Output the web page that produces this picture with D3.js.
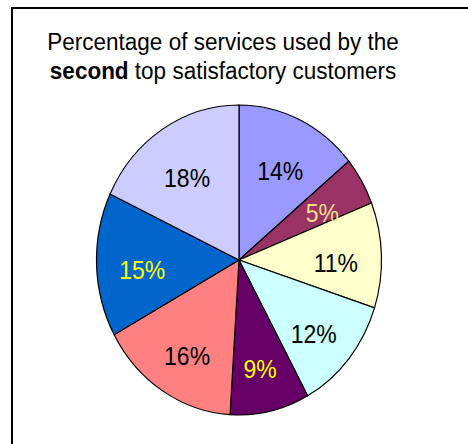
<!DOCTYPE html>
<html>
<head>
<meta charset="utf-8">
<script src="https://cdn.jsdelivr.net/npm/d3@7"></script>
<style>
  html, body { margin: 0; padding: 0; background: #fff; }
  svg { display: block; }
</style>
</head>
<body>
<svg id="chart" width="468" height="444"></svg>
<script>
// Share of services used, clockwise from 12 o'clock
const shares = [14, 5, 11, 12, 9, 16, 15, 18];
const sliceColors = ["#9999FF", "#993366", "#FFFFCC", "#CCFFFF", "#660066", "#FF8080", "#0066CC", "#CCCCFF"];
const labelColors = ["#000000", "#F2DC8C", "#000000", "#000000", "#FFFF00", "#000000", "#FFFF00", "#000000"];
const titleLines = [
  [{ t: "Percentage of services used by the", b: false }],
  [{ t: "second", b: true }, { t: " top satisfactory customers", b: false }]
];

const svg = d3.select("#chart");
const W = 468, H = 444;
const FONT = "Liberation Sans, Arial, sans-serif";

// the whole chart is slightly taller than wide
const cx = 239, cy = 260, rx = 142.5, ry = 155;
const sy = ry / rx;

// frame around the chart area
svg.append("rect")
  .attr("x", 12).attr("y", 8)
  .attr("width", W + 20).attr("height", H + 20)
  .attr("fill", "#fff").attr("stroke", "#000").attr("stroke-width", 2);

// title
titleLines.forEach((line, i) => {
  const t = svg.append("text")
    .attr("transform", `translate(223,${50 + i * 28.5}) scale(1,${sy})`)
    .attr("text-anchor", "middle")
    .attr("font-family", FONT)
    .attr("font-size", 22.5)
    .attr("fill", "#000");
  line.forEach(part => {
    t.append("tspan").text(part.t).attr("font-weight", part.b ? "bold" : "normal");
  });
});

// pie, drawn as a circle then stretched vertically into the plot ellipse
const pie = d3.pie().sort(null).value(d => d);
const arcs = pie(shares);
const arc = d3.arc().innerRadius(0).outerRadius(rx);

const g = svg.append("g")
  .attr("transform", `translate(${cx},${cy}) scale(1,${sy})`);

g.selectAll("path.slice")
  .data(arcs)
  .join("path")
  .attr("class", "slice")
  .attr("d", arc)
  .attr("fill", (d, i) => sliceColors[i])
  .attr("stroke", "#000")
  .attr("stroke-width", 1.2)
  .attr("vector-effect", "non-scaling-stroke");

// percentage labels inside each slice
const labelArc = d3.arc().innerRadius(rx * 0.68).outerRadius(rx * 0.68);
g.selectAll("text")
  .data(arcs)
  .join("text")
  .attr("transform", d => `translate(${labelArc.centroid(d)})`)
  .attr("dy", "0.62em")
  .attr("text-anchor", "middle")
  .attr("font-family", FONT)
  .attr("font-size", 23)
  .attr("fill", (d, i) => labelColors[i])
  .text(d => d.data + "%");
</script>
</body>
</html>
